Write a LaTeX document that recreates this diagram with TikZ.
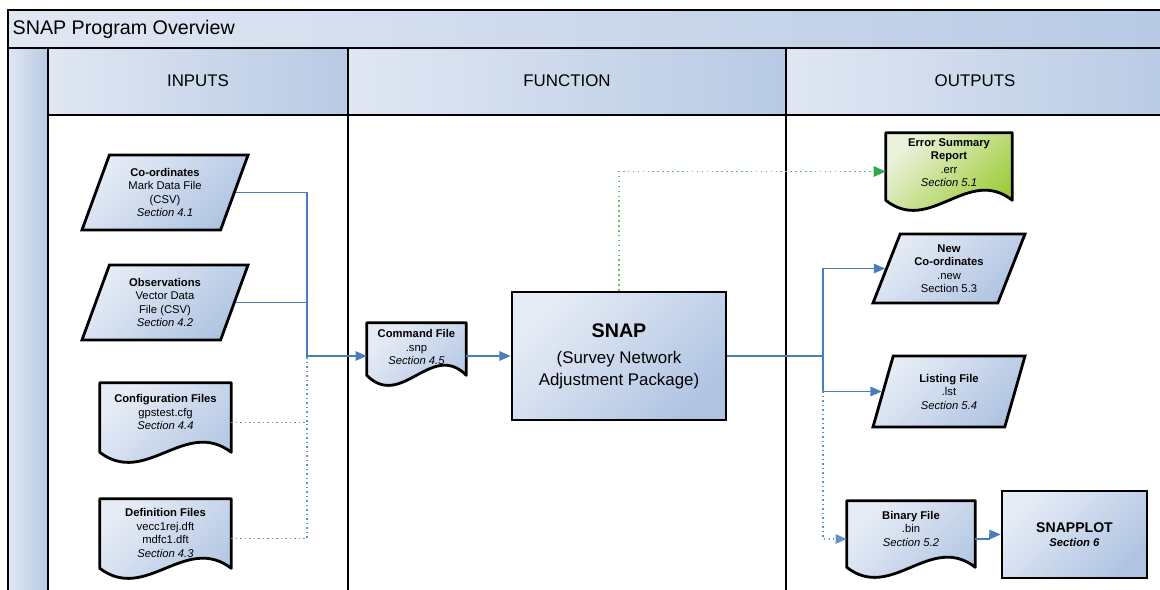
\documentclass[tikz,border=0pt]{standalone}
\usepackage{fontspec}
\setmainfont{Liberation Sans}
\usetikzlibrary{arrows.meta,shapes.geometric,calc,backgrounds}

\definecolor{shapelight}{RGB}{230,236,246}
\definecolor{shapedark}{RGB}{176,196,226}
\definecolor{headlight}{RGB}{224,231,243}
\definecolor{headdark}{RGB}{184,202,228}
\definecolor{errlight}{RGB}{234,241,218}
\definecolor{errdark}{RGB}{150,200,40}
\definecolor{flowblue}{RGB}{74,126,187}
\definecolor{dotblue}{RGB}{100,145,205}
\definecolor{flowgreen}{RGB}{100,195,100}
\definecolor{arrowgreen}{RGB}{45,170,70}

% wavy-bottomed document outline round a named node
\newcommand{\docoutline}[2]{%
	\begin{scope}[on background layer]
		\draw[#1, line width=2pt, line join=round] (#2.north west) -- (#2.north east) -- ($(#2.south east)+(0,-10)$)
			.. controls ($(#2.south west)!0.65!(#2.south east)+(0,-45)$) and ($(#2.south west)!0.35!(#2.south east)+(0,25)$) .. ($(#2.south west)+(0,-10)$) -- cycle;
	\end{scope}}

\begin{document}
\begin{tikzpicture}[x=0.025cm, y=-0.025cm,
	every node/.style={font=\fontsize{8}{9.6}\selectfont, align=center, inner sep=1pt},
	>={Triangle[length=2.8mm,width=2.4mm]},
	frame/.style={draw=black, line width=2pt},
	headfill/.style={left color=headlight, right color=headdark},
	blueshade/.style={top color=shapelight, bottom color=shapedark, shading angle=45},
	greenshade/.style={top color=errlight, bottom color=errdark, shading angle=45},
	box/.style={blueshade, draw, line width=2pt},
	para/.style={box, trapezium, trapezium left angle=62, trapezium right angle=118, trapezium stretches body},
	doc/.style={rectangle},
	lift/.style={execute at end node={\rule[-#1]{0pt}{0pt}}},
	flow/.style={flowblue, line width=0.8pt},
	dotflow/.style={dotblue, line width=0.9pt, dash pattern=on 1pt off 2.2pt},
	greenflow/.style={flowgreen, line width=1.1pt, dash pattern=on 1.1pt off 2.4pt, -{Triangle[length=3mm,width=2.6mm,color=arrowgreen]}}]
	\useasboundingbox (0,0) rectangle (1160,590);
	\clip (0,0) rectangle (1160,590);
	\begin{scope}[on background layer]
		\fill[white] (0,0) rectangle (1160,590);
	\end{scope}

	\draw[frame, headfill] (8,10) rectangle (1175,48);
	\node[anchor=west, font=\fontsize{14}{16}\selectfont] (title) at (11,29) {SNAP Program Overview};
	\draw[frame, headfill] (8,48) rectangle (48,600);
	\draw[frame, headfill] (48,48) rectangle (348,115);
	\draw[frame, headfill] (348,48) rectangle (786,115);
	\draw[frame, headfill] (786,48) rectangle (1175,115);
	\node[font=\fontsize{12}{14}\selectfont] (inputs) at (198,81) {INPUTS};
	\node[font=\fontsize{12}{14}\selectfont] (function) at (567,81) {FUNCTION};
	\node[font=\fontsize{12}{14}\selectfont] (outputs) at (975,81) {OUTPUTS};
	\draw[frame] (348,115) -- (348,600);
	\draw[frame] (786,115) -- (786,600);

	\node[para, minimum width=4.15cm, minimum height=1.875cm] (coord) at (165,192.5) {\textbf{Co-ordinates}\\Mark Data File\\(CSV)\\\textit{Section 4.1}};
	\node[para, minimum width=4.15cm, minimum height=1.875cm] (obs) at (165,302.5) {\textbf{Observations}\\Vector Data\\File (CSV)\\\textit{Section 4.2}};
	\node[doc, minimum width=3.275cm, minimum height=1.975cm, lift=15pt] (config) at (165.5,422.5) {\textbf{Configuration Files}\\gpstest.cfg\\\textit{Section 4.4}};
	\node[doc, minimum width=3.275cm, minimum height=1.975cm, lift=8pt] (defn) at (165.5,538.5) {\textbf{Definition Files}\\vecc1rej.dft\\mdfc1.dft\\\textit{Section 4.3}};
	\node[doc, minimum width=2.475cm, minimum height=1.55cm, lift=10pt] (cmd) at (416.5,354) {\textbf{Command File}\\.snp\\\textit{Section 4.5}};
	\node[box, minimum width=5.35cm, minimum height=3.2cm, font=\fontsize{12}{15}\selectfont] (snap) at (619,356) {{\fontsize{14}{17}\selectfont\textbf{SNAP}}\\[4pt](Survey Network\\Adjustment Package)};
	\node[doc, minimum width=3.15cm, minimum height=1.925cm, lift=13pt] (err) at (949,171.5) {\textbf{Error Summary}\\\textbf{Report}\\.err\\\textit{Section 5.1}};
	\node[para, minimum width=3.8cm, minimum height=1.725cm] (newc) at (949,268.5) {\textbf{New}\\\textbf{Co-ordinates}\\.new\\Section 5.3};
	\node[para, minimum width=3.8cm, minimum height=1.775cm] (lst) at (949,391.5) {\textbf{Listing File}\\.lst\\\textit{Section 5.4}};
	\node[doc, minimum width=3.2cm, minimum height=1.9cm, lift=15pt] (bin) at (911,539) {\textbf{Binary File}\\.bin\\\textit{Section 5.2}};
	\node[box, minimum width=3.625cm, minimum height=2.175cm] (plot) at (1074.5,534.5) {{\fontsize{10}{12}\selectfont\textbf{SNAPPLOT}}\\\textbf{\textit{Section 6}}};

	\docoutline{blueshade}{config}
	\docoutline{blueshade}{defn}
	\docoutline{blueshade}{cmd}
	\docoutline{greenshade}{err}
	\docoutline{blueshade}{bin}

	\coordinate (jin) at (307,356);
	\coordinate (jout) at (823,356);
	\draw[flow, ->] (coord.east) -| (jin) -- (cmd.west |- jin);
	\draw[flow] (obs.east) -| (jin);
	\draw[dotflow] (config.east) -| (jin);
	\draw[dotflow] (defn.east) -| (config.east -| jin);
	\draw[flow, ->] (cmd.east |- jin) -- (snap.west);
	\draw[flow] (snap.east) -- (jout);
	\draw[flow, ->] (jout) |- (newc.west);
	\draw[flow, ->] (jout) |- (lst.west);
	\draw[dotflow, ->] (jout |- lst.west) |- (bin.west);
	\draw[greenflow] (snap.north) |- (err.west);
	\draw[flow, ->] (bin.east) -- ++(14,0) |- (plot.west);
\end{tikzpicture}
\end{document}
